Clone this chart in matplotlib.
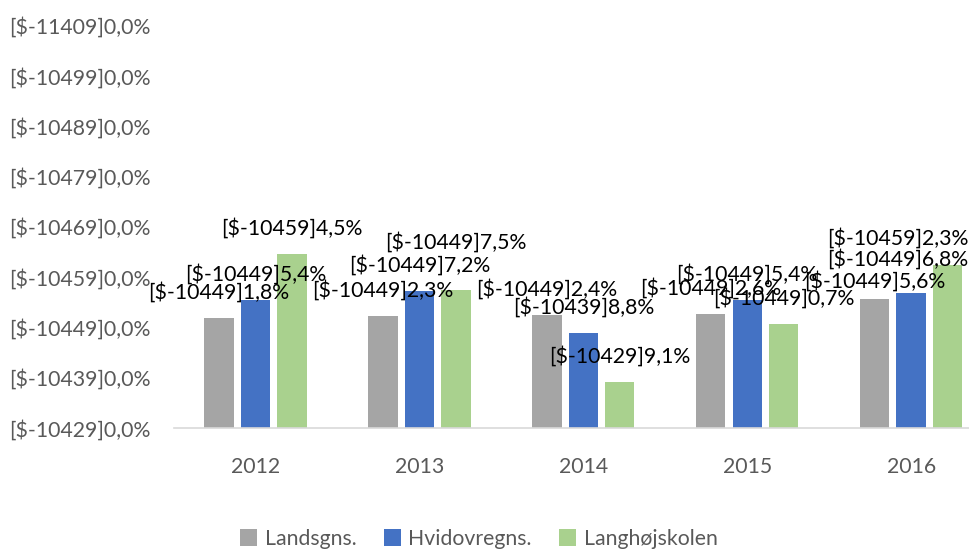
import numpy as np
import matplotlib
matplotlib.use('Agg')
import matplotlib.pyplot as plt

years = ['2012', '2013', '2014', '2015', '2016']
series = ['Landsgns.', 'Hvidovregns.', 'Langhøjskolen']
landsgns = [94.18, 94.23, 94.24, 94.26, 94.56]
hvidovre = [94.54, 94.72, 93.88, 94.54, 94.68]
langhoj = [95.45, 94.75, 92.91, 94.07, 95.23]
ytick_vals = [92, 93, 94, 95, 96, 97, 98, 99, 100]
ytick_labels = ['[$-10429]0,0%', '[$-10439]0,0%', '[$-10449]0,0%',
                '[$-10459]0,0%', '[$-10469]0,0%', '[$-10479]0,0%',
                '[$-10489]0,0%', '[$-10499]0,0%', '[$-11409]0,0%']


def excel_label(v):
    # mimic the broken number format seen in the chart
    frac = ('%.1f' % ((v % 1) * 10)).replace('.', ',')
    return '[$-104%d9]%s%%' % (int(v) % 10, frac)


colors = ['#A5A5A5', '#4472C4', '#A9D18E']
# label nudges in pixels (series idx, year idx) -> (dx, dy)
nudge = {(2, 1): (0, 21), (0, 4): (0, -8), (1, 4): (-13, 8), (2, 4): (-50, 1)}

plt.rcParams['font.family'] = ['Lato', 'DejaVu Sans']
fs = 15.3

fig = plt.figure(figsize=(9.7, 5.49), dpi=100)
W, H = 970., 549.
ax = fig.add_axes([173.7 / W, 1 - 428 / H, (993 - 173.7) / W, (428 - 25.5) / H])

x = np.arange(len(years))
pitch = 0.2226
bw = 0.179
data = [landsgns, hvidovre, langhoj]
for i, vals in enumerate(data):
    xs = x + (i - 1) * pitch
    ax.bar(xs, np.array(vals) - 92, bottom=92, width=bw, color=colors[i],
           label=series[i], zorder=2)
    for j, v in enumerate(vals):
        dx, dy = nudge.get((i, j), (0, 0))
        ax.annotate(excel_label(v), (xs[j], v), xytext=(dx, 26 + dy),
                    textcoords='offset pixels', ha='center', va='center',
                    fontsize=fs, color='black', annotation_clip=False, zorder=3)

ax.set_xlim(-0.5, len(years) - 0.5)
ax.set_ylim(92, 100)
ax.set_yticks(ytick_vals)
ax.set_yticklabels(ytick_labels)
ax.set_xticks(x)
ax.set_xticklabels(years)
ax.tick_params(axis='y', length=0, pad=16.5, labelsize=fs, labelcolor='#595959')
ax.tick_params(axis='x', length=0, pad=21, labelsize=fs, labelcolor='#595959')
for s in ['top', 'right', 'left']:
    ax.spines[s].set_visible(False)
ax.spines['bottom'].set_color('#D9D9D9')
ax.spines['bottom'].set_linewidth(1.2)

fig.legend(loc='center', bbox_to_anchor=(479 / W, 1 - 539 / H), ncol=3,
           frameon=False, fontsize=fs, labelcolor='#595959',
           handlelength=0.8, handleheight=0.8, handletextpad=0.35,
           columnspacing=1.3)

fig.savefig('out.png', dpi=100)
